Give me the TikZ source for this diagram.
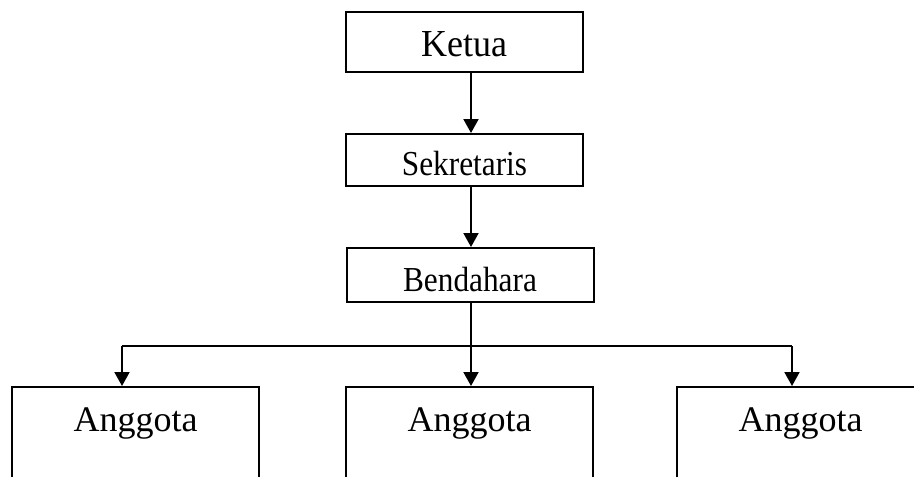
\documentclass[tikz,border=0pt]{standalone}
\usepackage{fontspec}
\setmainfont{Liberation Serif}
\usetikzlibrary{arrows.meta}
\tikzset{
  box/.style={draw, line width=2pt, inner sep=0pt, minimum width=#1},
  box/.default=237pt,
  arr/.style={line width=2pt, -{Triangle[length=14pt,width=15pt]}},
  link/.style={line width=2pt},
  big/.style={font=\fontsize{36}{40}\selectfont, inner sep=0pt, anchor=base},
  mid/.style={font=\fontsize{31.3}{36}\selectfont, inner sep=0pt, anchor=base}
}
\begin{document}
\begin{tikzpicture}[x=1pt,y=-1pt]
\useasboundingbox (0,0) rectangle (914,477);
\clip (0,0) rectangle (914,477);
% upper boxes
\node[box, minimum height=60pt] (ketua) at (464.5,42) {};
\node[big] (tk) at (ketua.center |- 0,56) {\scalebox{1}[1.06]{Ketua}};
\node[box, minimum height=52pt] (sek) at (464.5,160) {};
\node[mid] (ts) at (sek.center |- 0,175) {\scalebox{1}[1.12]{Sekretaris}};
\node[box=247pt, minimum height=54pt] (bend) at (470,275) {};
\node[mid] (tb) at (bend.center |- 0,291.5) {\scalebox{1}[1.12]{Bendahara}};
% lower boxes (cut by the page bottom)
\node[box=247pt, minimum height=130pt, anchor=north] (a1) at (135.5,386) {};
\node[box=247pt, minimum height=130pt, anchor=north] (a2) at (469.5,386) {};
\node[box=247pt, minimum height=130pt, anchor=north] (a3) at (800.5,386) {};
\node[big] (t1) at (a1.north |- 0,431) {Anggota};
\node[big] (t2) at (a2.north |- 0,431) {Anggota};
\node[big] (t3) at (a3.north |- 0,431) {Anggota};
% connectors
\coordinate (sx) at (471,0);
\coordinate (jl) at (122,346);
\coordinate (jr) at (792,346);
\draw[arr] (ketua.south -| sx) -- (sek.north -| sx);
\draw[arr] (sek.south -| sx) -- (bend.north -| sx);
\draw[arr] (bend.south -| sx) -- (a2.north -| sx);
\draw[link] (jl) -- (jr);
\draw[arr] (jl) -- (a1.north -| jl);
\draw[arr] (jr) -- (a3.north -| jr);
\end{tikzpicture}
\end{document}
